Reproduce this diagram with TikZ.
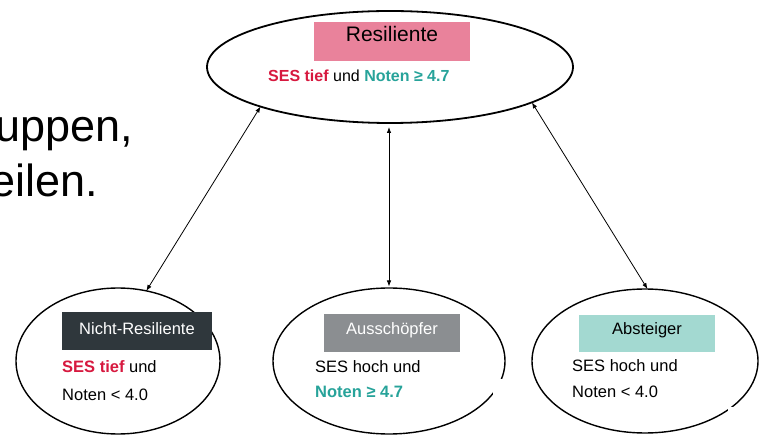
\documentclass[tikz,border=0pt]{standalone}
\usepackage{fontspec}
\setmainfont{Liberation Sans}
\usetikzlibrary{shapes.geometric,arrows.meta}
\definecolor{sesred}{HTML}{D7193F}
\definecolor{noteteal}{HTML}{27A39A}
\definecolor{respink}{HTML}{E9829B}
\definecolor{nrdark}{HTML}{2F373C}
\definecolor{ausgray}{HTML}{8B8E91}
\definecolor{abteal}{HTML}{A3D9D1}

\begin{document}
\begin{tikzpicture}[x=1pt,y=-1pt,
  group/.style={ellipse, draw=black, line width=1.4pt, inner sep=0pt, outer sep=0pt},
  headbox/.style={rectangle, inner sep=0pt, outer sep=0pt, anchor=north west},
  body/.style={font=\fontsize{16.5}{19}\selectfont, inner sep=0pt, anchor=base west},
  head/.style={font=\fontsize{16.5}{19}\selectfont, inner sep=0pt},
  slide/.style={font=\fontsize{45}{54}\selectfont, inner sep=0pt, anchor=base east},
  link/.style={{Latex[length=6pt,width=4.5pt]}-{Latex[length=6pt,width=4.5pt]}, line width=0.8pt},
  gap/.style={fill=white, draw=none}
]
\useasboundingbox (0,0) rectangle (760,435);
\clip (0,0) rectangle (760,435);
\fill[white] (0,0) rectangle (760,435);

% slide text running in from the left
\node[slide] (s1) at (133,142) {uppen,};
\node[slide] (s2) at (98,197) {eilen.};

% group ellipses
\node[group, line width=1.8pt, minimum width=366, minimum height=112] (top) at (390,67) {};
\node[group, minimum width=204, minimum height=146] (nr) at (118,361) {};
\node[group, minimum width=232, minimum height=146] (aus) at (389,361) {};
\node[group, minimum width=226, minimum height=144] (ab) at (645,361) {};

% breaks in the outlines
\fill[gap] (212,406) rectangle (222,413);
\fill[gap] (493,379) rectangle (508,397);
\fill[gap] (728,407) rectangle (740,414);

% Resiliente
\node[headbox, fill=respink, minimum width=156, minimum height=39] (rbox) at (314,22) {};
\node[font=\fontsize{21}{25}\selectfont, inner sep=0pt] (rlab) at (392,33.5) {Resiliente};
\node[body, font=\fontsize{16}{19}\selectfont] (rtxt) at (268,82)
  {\textcolor{sesred}{\bfseries SES tief} und \textcolor{noteteal}{\bfseries Noten ≥ 4.7}};

% Nicht-Resiliente
\node[headbox, fill=nrdark, minimum width=150, minimum height=38] (nrbox) at (62,312) {};
\node[head, text=white] (nrlab) at (137,328.5) {Nicht-Resiliente};
\node[body] (nr1) at (62,373) {\textcolor{sesred}{\bfseries SES tief} und};
\node[body] (nr2) at (62,400) {Noten < 4.0};

% Ausschoepfer
\node[headbox, fill=ausgray, minimum width=136, minimum height=38] (ausbox) at (324,314) {};
\node[head, text=white] (auslab) at (392,330) {Ausschöpfer};
\node[body] (aus1) at (315,372) {SES hoch und};
\node[body] (aus2) at (315,397) {\textcolor{noteteal}{\bfseries Noten ≥ 4.7}};

% Absteiger
\node[headbox, fill=abteal, minimum width=136, minimum height=37] (abbox) at (579,315) {};
\node[head] (ablab) at (647,330) {Absteiger};
\node[body] (ab1) at (572,371) {SES hoch und};
\node[body] (ab2) at (572,397) {Noten < 4.0};

% transitions between the groups
\draw[link] (top.197) -- (nr.68);
\draw[link, shorten <=4pt, shorten >=1.5pt] (aus.north |- top.south) -- (aus.north);
\draw[link] (top.346.6) -- (ab.88);
\end{tikzpicture}
\end{document}
